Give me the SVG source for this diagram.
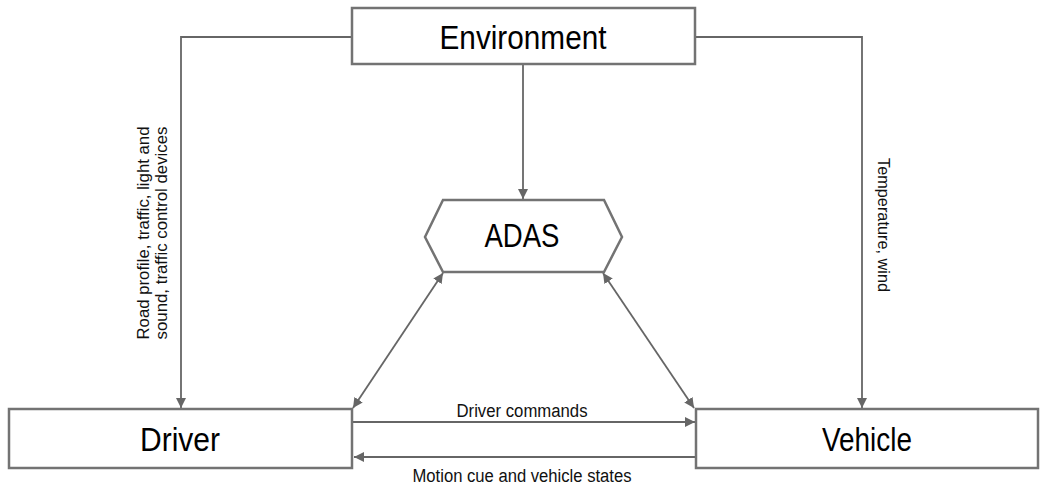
<svg xmlns="http://www.w3.org/2000/svg" width="1043" height="484" viewBox="0 0 1043 484">
<style>
.box{fill:#fff;stroke:#737373;stroke-width:2.5}
.ln{fill:none;stroke:#666;stroke-width:1.8}
.big{font-family:"Liberation Sans",Arial,sans-serif;font-size:33px;fill:#000;text-anchor:middle}
.sm{font-family:"Liberation Sans",Arial,sans-serif;font-size:18px;fill:#111;text-anchor:middle}
.rot{font-family:"Liberation Sans",Arial,sans-serif;font-size:17px;fill:#111;text-anchor:middle}
</style>
<defs>
<marker id="ah" viewBox="0 0 10 10" refX="10" refY="5" markerWidth="10" markerHeight="10" markerUnits="userSpaceOnUse" orient="auto-start-reverse">
<path d="M0,0 L10,5 L0,10 z" fill="#666"/>
</marker>
</defs>
<g id="connectors">
<path class="ln" d="M352,37 H181 V408" marker-end="url(#ah)"/>
<path class="ln" d="M695,37 H862 V408" marker-end="url(#ah)"/>
<path class="ln" d="M523,64 V199" marker-end="url(#ah)"/>
<path class="ln" d="M443,273 L353,408" marker-start="url(#ah)" marker-end="url(#ah)"/>
<path class="ln" d="M603,273 L694,408" marker-start="url(#ah)" marker-end="url(#ah)"/>
<path class="ln" d="M353,422 H695" marker-end="url(#ah)"/>
<path class="ln" d="M696,457 H354" marker-end="url(#ah)"/>
<text class="sm" x="522" y="417" textLength="131" lengthAdjust="spacingAndGlyphs">Driver commands</text>
<text class="sm" x="522" y="482" textLength="219" lengthAdjust="spacingAndGlyphs">Motion cue and vehicle states</text>
<text class="rot" transform="translate(149,233) rotate(-90)" textLength="213" lengthAdjust="spacingAndGlyphs">Road profile, traffic, light and</text>
<text class="rot" transform="translate(167,233) rotate(-90)" textLength="213" lengthAdjust="spacingAndGlyphs">sound, traffic control devices</text>
<text class="rot" transform="translate(878,225) rotate(90)" textLength="134" lengthAdjust="spacingAndGlyphs">Temperature, wind</text>
</g>
<g id="environment">
<rect class="box" x="352" y="8" width="343" height="56"/>
<text class="big" x="523" y="49" textLength="167" lengthAdjust="spacingAndGlyphs">Environment</text>
</g>
<g id="adas">
<polygon class="box" points="443,200 604,200 622,237 604,272 443,272 425,237"/>
<text class="big" x="522" y="247" textLength="75" lengthAdjust="spacingAndGlyphs">ADAS</text>
</g>
<g id="driver">
<rect class="box" x="9" y="409" width="343" height="59"/>
<text class="big" x="180" y="451" textLength="80" lengthAdjust="spacingAndGlyphs">Driver</text>
</g>
<g id="vehicle">
<rect class="box" x="696" y="409" width="342" height="59"/>
<text class="big" x="867" y="451" textLength="90" lengthAdjust="spacingAndGlyphs">Vehicle</text>
</g>
</svg>
